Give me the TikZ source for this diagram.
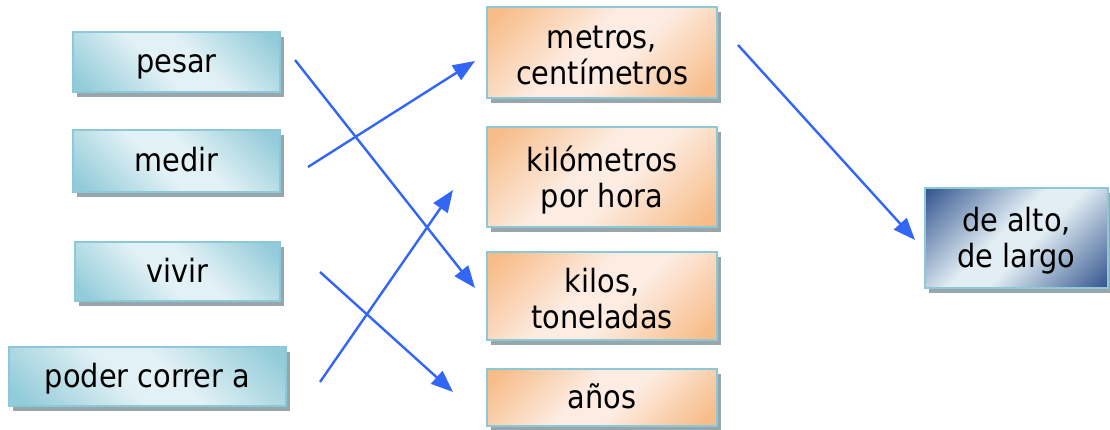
\documentclass[tikz,border=0pt]{standalone}
\usepackage{fontspec}
\setmainfont{DejaVu Sans}[FakeStretch=0.9]
\usetikzlibrary{arrows.meta,shadows,patterns}
\definecolor{bdark}{HTML}{92CBD9}
\definecolor{blight}{HTML}{E2F1F5}
\definecolor{odark}{HTML}{F7BC88}
\definecolor{olight}{HTML}{FDECE2}
\definecolor{ddark}{HTML}{395A92}
\definecolor{dlight}{HTML}{E2EEF4}
\definecolor{edgec}{HTML}{8CC9D8}
\definecolor{shadowc}{HTML}{98A6AB}
\definecolor{arrowc}{HTML}{3366F5}
\pgfdeclarehorizontalshading{blueshade}{100bp}{color(0bp)=(bdark); color(18bp)=(bdark); color(44bp)=(blight); color(56bp)=(blight); color(82bp)=(bdark); color(100bp)=(bdark)}
\pgfdeclarehorizontalshading{orangeshade}{100bp}{color(0bp)=(odark); color(18bp)=(odark); color(44bp)=(olight); color(56bp)=(olight); color(82bp)=(odark); color(100bp)=(odark)}
\pgfdeclarehorizontalshading{darkshade}{100bp}{color(0bp)=(ddark); color(16bp)=(ddark); color(45bp)=(dlight); color(55bp)=(dlight); color(84bp)=(ddark); color(100bp)=(ddark)}
\begin{document}
\begin{tikzpicture}[x=1pt,y=-1pt,
  card/.style={draw=edgec, line width=2.6pt, inner sep=0pt,
    drop shadow={shadow xshift=4pt, shadow yshift=-5pt, opacity=1, fill=shadowc, draw=none}},
  bluecard/.style={card, shading=blueshade, shading angle=45},
  orangecard/.style={card, shading=orangeshade, shading angle=-45},
  darkcard/.style={card, shading=darkshade, shading angle=-45},
  word/.style={inner sep=0pt, align=center, text=black, font=\fontsize{32}{36}\selectfont},
  oneline/.style={word, anchor=base, yshift=-10.5pt},
  twoline/.style={word, anchor=center, yshift=-3pt},
  link/.style={draw=arrowc, line width=2.4pt, -{Triangle[length=22pt,width=17pt]}}
]
\useasboundingbox (0,0) rectangle (1110,430);
\node[bluecard, minimum width=207pt, minimum height=60pt] (pesar) at (176.5,62) {};
\node[bluecard, minimum width=207pt, minimum height=62pt] (medir) at (176.5,161) {};
\node[bluecard, minimum width=205pt, minimum height=59pt] (vivir) at (177.5,271.5) {};
\node[bluecard, minimum width=277pt, minimum height=59pt] (poder) at (147.5,376.5) {};
\node[orangecard, minimum width=230pt, minimum height=91pt] (metros) at (602,52.5) {};
\node[orangecard, minimum width=230pt, minimum height=100pt] (kmh) at (602,177) {};
\node[orangecard, minimum width=230pt, minimum height=88pt] (kilos) at (602,296) {};
\node[orangecard, minimum width=230pt, minimum height=57pt] (anos) at (602,397.5) {};
\node[darkcard, minimum width=183pt, minimum height=100pt] (alto) at (1016.5,238) {};
\node[oneline] (tpesar) at (pesar.center) {pesar};
\node[oneline] (tmedir) at (medir.center) {medir};
\node[oneline] (tvivir) at (vivir.center) {vivir};
\node[oneline] (tpoder) at (poder.center) {poder correr a};
\node[twoline] (tmetros) at (metros.center) {metros,\\centímetros};
\node[twoline] (tkmh) at (kmh.center) {kilómetros\\por hora};
\node[twoline] (tkilos) at (kilos.center) {kilos,\\toneladas};
\node[oneline] (tanos) at (anos.center) {años};
\node[twoline] (talto) at (alto.center) {de alto,\\de largo};
\coordinate (s1) at (295,60);  \coordinate (e1) at (475,288);
\coordinate (s2) at (308,167); \coordinate (e2) at (475,61);
\coordinate (s3) at (320,382); \coordinate (e3) at (453,190);
\coordinate (s4) at (320,272); \coordinate (e4) at (453,392);
\coordinate (s5) at (738,45);  \coordinate (e5) at (915,240);
\draw[link] (s1) -- (e1);
\draw[link] (s2) -- (e2);
\draw[link] (s3) -- (e3);
\draw[link] (s4) -- (e4);
\draw[link] (s5) -- (e5);
\end{tikzpicture}
\end{document}
